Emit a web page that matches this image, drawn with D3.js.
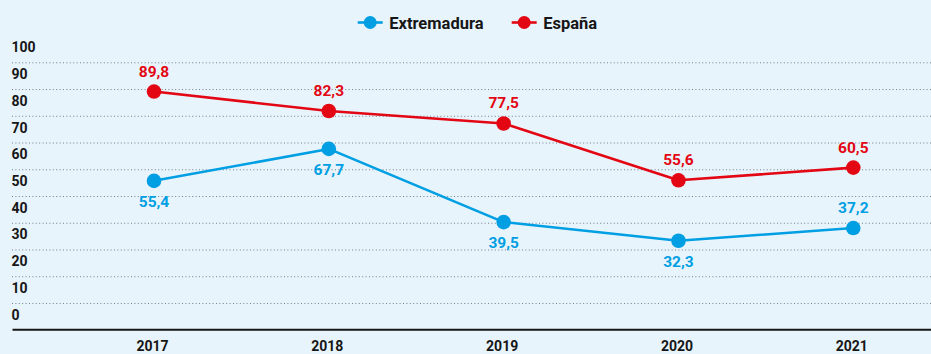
<!DOCTYPE html>
<html lang="es">
<head>
<meta charset="utf-8">
<script src="https://cdn.jsdelivr.net/npm/d3@7"></script>
<style>
  html, body { margin: 0; padding: 0; background: #e8f4fc; }
  svg { display: block; font-family: Roboto, "Noto Sans", sans-serif; }
</style>
</head>
<body>
<svg id="chart" width="931" height="354"></svg>
<script>
// Años y series
const years = ["2017", "2018", "2019", "2020", "2021"];
const extremadura = [55.4, 67.7, 39.5, 32.3, 37.2];
const espana = [89.8, 82.3, 77.5, 55.6, 60.5];
const yTicks = [0, 10, 20, 30, 40, 50, 60, 70, 80, 90, 100];

const seriesNames = ["Extremadura", "España"];
const colors = { "Extremadura": "#009fe3", "España": "#e30613" };

const W = 931, H = 354;
const svg = d3.select("#chart");

svg.append("rect").attr("width", W).attr("height", H).attr("fill", "#e8f4fc");

const es = d3.formatLocale({ decimal: ",", thousands: ".", grouping: [3], currency: ["", " €"] });
const fmt = es.format(".1f");

// Escalas
const x = d3.scalePoint().domain(years).range([154, 853.3]);
const gridY = d3.scaleLinear().domain([0, 100]).range([329.7, 62.3]);
const y = d3.scaleLinear().domain([0, 100]).range([324.6, 65.1]);

// Rejilla punteada y etiquetas del eje vertical
const grid = svg.append("g");
grid.selectAll("line")
  .data(yTicks.filter(d => d > 0))
  .join("line")
  .attr("x1", 12).attr("x2", W)
  .attr("y1", d => gridY(d) + 0.5).attr("y2", d => gridY(d) + 0.5)
  .attr("stroke", "#6f7f8a")
  .attr("stroke-width", 1)
  .attr("stroke-dasharray", "1,2.4");

grid.selectAll("text")
  .data(yTicks)
  .join("text")
  .attr("x", 11.5)
  .attr("y", d => gridY(d) - 10)
  .attr("font-size", 14)
  .attr("font-weight", 700)
  .attr("fill", "#161616")
  .text(d => d);

// Línea base
svg.append("line")
  .attr("x1", 12.5).attr("x2", W)
  .attr("y1", gridY(0)).attr("y2", gridY(0))
  .attr("stroke", "#161616").attr("stroke-width", 2);

// Años
svg.append("g").selectAll("text")
  .data(years)
  .join("text")
  .attr("x", d => x(d) - 1.5)
  .attr("y", 350.5)
  .attr("text-anchor", "middle")
  .attr("font-size", 14)
  .attr("font-weight", 700)
  .attr("fill", "#161616")
  .text(d => d);

// Series
const series = [
  { name: "Extremadura", values: extremadura },
  { name: "España", values: espana }
];

const line = d3.line()
  .x((d, i) => x(years[i]))
  .y(d => y(d));

series.forEach(s => {
  const g = svg.append("g");
  const c = colors[s.name];
  g.append("path")
    .datum(s.values)
    .attr("d", line)
    .attr("fill", "none")
    .attr("stroke", c)
    .attr("stroke-width", 2.6)
    .attr("stroke-linejoin", "round");
  g.selectAll("circle")
    .data(s.values)
    .join("circle")
    .attr("cx", (d, i) => x(years[i]))
    .attr("cy", d => y(d))
    .attr("r", 7.3)
    .attr("fill", c);
  g.selectAll("text")
    .data(s.values)
    .join("text")
    .attr("x", (d, i) => x(years[i]))
    .attr("y", (d, i) => {
      // España siempre encima; Extremadura debajo salvo el último año
      const above = s.name === "España" || i === years.length - 1;
      return above ? y(d) - 15 : y(d) + 26;
    })
    .attr("text-anchor", "middle")
    .attr("font-size", 15.5)
    .attr("font-weight", 700)
    .attr("fill", c)
    .text(d => fmt(d));
});

// Leyenda
const legend = svg.append("g");
const legendX = [357.7, 511.7];
seriesNames.forEach((name, i) => {
  const lg = legend.append("g").attr("transform", `translate(${legendX[i]},22.5)`);
  const c = colors[name];
  lg.append("line").attr("x1", 0).attr("x2", 25).attr("y1", 0).attr("y2", 0)
    .attr("stroke", c).attr("stroke-width", 2.6);
  lg.append("circle").attr("cx", 12.5).attr("cy", 0).attr("r", 6.5).attr("fill", c);
  lg.append("text").attr("x", 31.5).attr("y", 6)
    .attr("font-size", 16.5).attr("font-weight", 700).attr("fill", "#161616")
    .text(name);
});
</script>
</body>
</html>
